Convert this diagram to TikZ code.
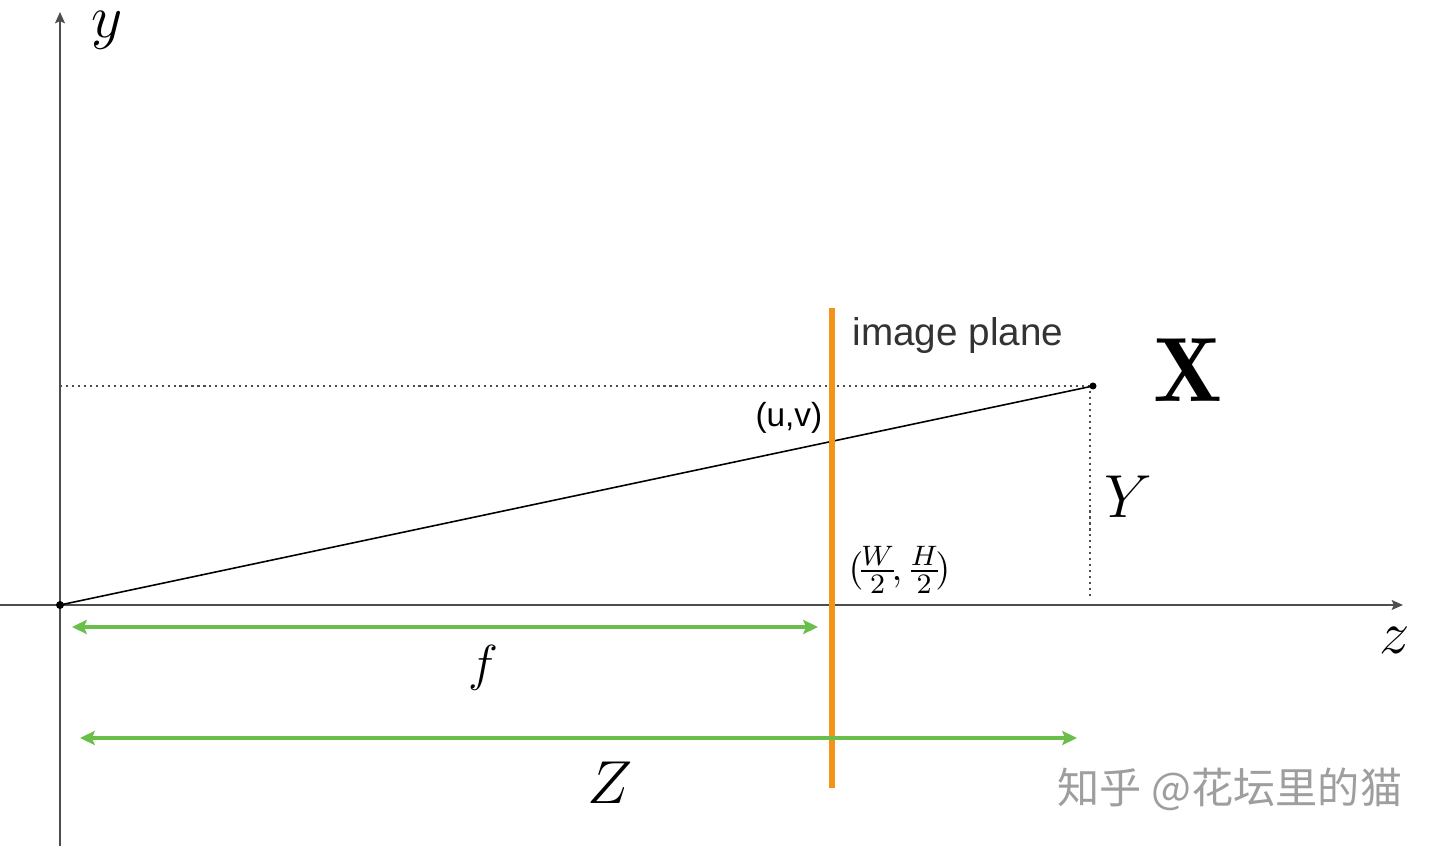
\documentclass[tikz,border=0pt]{standalone}
\usepackage{fontspec}
\newfontfamily\planefont{Liberation Sans}
\newfontfamily\cjkfont{Noto Sans CJK SC}
\usetikzlibrary{arrows.meta}
\definecolor{axisgray}{HTML}{4D4D4D}
\definecolor{planeorange}{HTML}{F39419}
\definecolor{distgreen}{HTML}{6ABF4B}
\begin{document}
\begin{tikzpicture}[
    axis/.style={
        axisgray,
        line width=0.6pt,
        -{Stealth[length=3.2pt,width=2.8pt,inset=0.6pt]}
    },
    ray/.style={
        black,
        line width=0.45pt
    },
    helper/.style={
        axisgray,
        line width=0.4pt,
        dash pattern=on 0.6pt off 1.1pt
    },
    plane/.style={
        planeorange,
        line width=1.6pt
    },
    dist/.style={
        distgreen,
        line width=0.9pt,
        {Stealth[length=4.2pt,width=4pt,inset=0.8pt]}-{Stealth[length=4.2pt,width=4pt,inset=0.8pt]}
    },
    mathlabel/.style={
        inner sep=0pt,
        font=\fontsize{16}{19}\selectfont
    },
    textlabel/.style={
        inner sep=0pt,
        text=black!80,
        font=\planefont\fontsize{11}{13}\selectfont
    }
]

% Cornice
\useasboundingbox (-0.6,-2.41) rectangle (13.8,6.05);

% Punti
\coordinate (O) at (0,0);
\coordinate (Xpt) at (10.33,2.19);
\coordinate (ytop) at (0,5.93);
\coordinate (ybot) at (0,-2.41);
\coordinate (zleft) at (-0.6,0);
\coordinate (zright) at (13.43,0);
\coordinate (planetop) at (7.72,2.97);
\coordinate (planebot) at (7.72,-1.83);

% Assi
\draw[axis] (ybot) -- (ytop);
\draw[axis] (zleft) -- (zright);

% Linee tratteggiate
\draw[helper] (O |- Xpt) -- (Xpt);
\draw[helper, shorten <=0.05cm, shorten >=0.07cm] (10.30,2.19) -- (10.30,0);

% Raggio e piano immagine
\draw[ray] (O) -- (Xpt);
\draw[plane] (planetop) -- (planebot);
\fill (O) circle (0.04);
\fill (Xpt) circle (0.035);

% Distanze
\coordinate (fstart) at (0.12,-0.22);
\coordinate (fend) at (7.58,-0.22);
\coordinate (Zstart) at (0.20,-1.33);
\coordinate (Zend) at (10.17,-1.33);
\draw[dist] (fstart) -- (fend);
\draw[dist] (Zstart) -- (Zend);

% Etichette
\node[mathlabel] (ylab) at (0.47,5.75) {$y$};
\node[mathlabel, font=\fontsize{18}{21}\selectfont] (zlab) at (13.35,-0.35) {$z$};
\node[mathlabel, font=\fontsize{15}{18}\selectfont] (flab) at (4.23,-0.63) {$f$};
\node[mathlabel] (Zlab) at (5.50,-1.78) {$Z$};
\node[mathlabel] (Ylab) at (10.68,1.08) {$Y$};
\node[mathlabel, font=\fontsize{26}{30}\selectfont] (Xlab) at (11.28,2.35) {$\mathbf{X}$};
\node[textlabel, anchor=west] (planelab) at (7.92,2.69) {image plane};
\node[textlabel, text=black, font=\planefont\fontsize{9.5}{11}\selectfont, anchor=east] (uvlab) at (7.63,1.87) {(u,v)};
\node[mathlabel, font=\fontsize{11}{13}\selectfont, anchor=west] (whlab) at (7.88,0.35)
    {$(\mkern-3mu\frac{W}{2}\mkern-3mu,\mkern-1mu\frac{H}{2}\mkern-3mu)$};

% Filigrana
\node[inner sep=0pt, text=black!38, font=\cjkfont\fontsize{12}{14}\selectfont] (mark) at (11.70,-1.84) {知乎 @花坛里的猫};

\end{tikzpicture}
\end{document}
